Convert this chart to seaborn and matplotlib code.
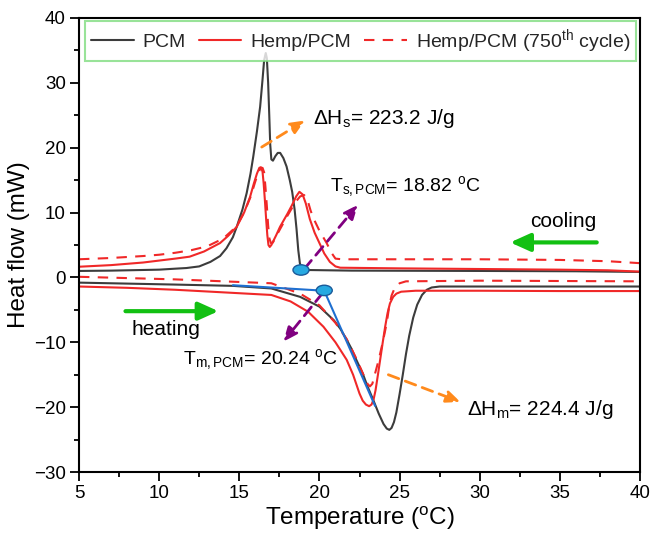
import numpy as np
import pandas as pd
import matplotlib
matplotlib.use("Agg")
import matplotlib.pyplot as plt
import seaborn as sns
from matplotlib.patches import Ellipse

# ---------------- data ----------------
pcm_cool_T = [5, 7, 9, 10, 11, 11.7, 12.5, 13.2, 13.8, 14.2, 14.6, 14.84, 15.2, 15.46, 15.7, 15.87, 16.1,
              16.3, 16.45, 16.55, 16.65, 16.72, 16.8, 16.87, 16.93, 17.0, 17.1, 17.25, 17.4, 17.55, 17.75,
              17.95, 18.15, 18.3, 18.45, 18.57, 18.68, 18.78, 18.9, 19.1, 22, 30, 36, 40]
pcm_cool_Q = [1.0, 1.05, 1.15, 1.2, 1.35, 1.45, 1.7, 2.4, 3.3, 4.5, 6.2, 7.8, 10.5, 13.0, 16.0, 18.6, 22.5,
              26.3, 30.5, 33.5, 34.6, 33.8, 30.0, 25.0, 20.5, 18.2, 18.0, 18.7, 19.2, 19.2, 18.4,
              17.1, 15.0, 13.2, 10.5, 7.5, 4.2, 2.2, 1.3, 1.15, 1.05, 1.0, 0.95, 0.85]

hemp_cool_T = [5, 7, 9, 10, 11, 11.9, 12.8, 13.8, 14.3, 14.84, 15.3, 15.67, 15.9, 16.1, 16.25, 16.35, 16.45,
               16.52, 16.6, 16.68, 16.75, 16.82, 16.9, 17.0, 17.3, 17.54, 18.0, 18.3, 18.55, 18.75, 18.95,
               19.15, 19.4, 19.7, 20.0, 20.3, 20.65, 21.0, 21.3, 25, 30, 35, 38, 40]
hemp_cool_Q = [1.65, 1.9, 2.3, 2.6, 2.9, 3.2, 4.0, 5.3, 6.4, 7.8, 10.0, 12.4, 14.4, 16.0, 16.9, 17.0, 16.3,
               14.5, 11.8, 8.8, 6.5, 5.0, 4.7, 5.0, 6.5, 7.8, 9.8, 11.2, 12.5, 13.2, 12.8,
               11.4, 9.0, 6.9, 5.3, 3.7, 2.4, 1.7, 1.5, 1.4, 1.3, 1.2, 1.1, 0.9]

cyc_cool_T = [5, 7, 9, 10, 11, 12, 13, 14, 14.8, 15.3, 15.7, 16.0, 16.15, 16.3, 16.45, 16.55, 16.63, 16.72,
              16.8, 16.88, 16.97, 17.1, 17.4, 18.0, 18.5, 18.8, 19.05, 19.25, 19.45, 19.65, 20.0, 20.45,
              20.75, 21.0, 21.4, 30, 35, 38, 40]
cyc_cool_Q = [2.8, 3.0, 3.3, 3.5, 3.8, 4.2, 4.8, 6.0, 7.8, 10.0, 12.4, 14.8, 15.9, 16.7, 16.9, 16.2, 14.0, 11.0,
              8.0, 6.0, 5.3, 5.4, 6.8, 9.5, 11.6, 12.5, 12.7, 12.0, 10.3, 9.0, 7.2, 5.3,
              3.8, 2.9, 2.8, 2.8, 2.7, 2.5, 2.2]

pcm_heat_T = [5, 8, 11, 14.6, 17, 18.8, 20, 20.9, 21.3, 21.7, 22.0, 22.3, 22.7, 23.0, 23.36, 23.7, 24.0,
              24.2, 24.36, 24.5, 24.65, 24.8, 25.0, 25.2, 25.4, 25.6, 25.85, 26.1, 26.4, 26.7, 27.0, 27.5,
              30, 35, 40]
pcm_heat_Q = [-0.8, -0.95, -1.1, -1.3, -1.7, -3.0, -4.5, -6.6, -7.9, -9.6, -11.0, -12.7, -14.8, -16.8, -18.9,
              -21.0, -22.6, -23.3, -23.5, -23.2, -22.3, -20.8, -18.0, -15.0, -11.8, -9.0, -6.2, -4.2, -2.7,
              -1.9, -1.55, -1.4, -1.4, -1.4, -1.4]

hemp_heat_T = [5, 8, 11, 14, 17, 18.2, 19.3, 20.25, 21.0, 21.7, 22.1, 22.5, 22.7, 22.9, 23.1, 23.25, 23.38,
               23.5, 23.65, 23.8, 23.95, 24.1, 24.25, 24.4, 24.6, 24.8, 25.1, 26, 30, 35, 40]
hemp_heat_Q = [-1.4, -1.6, -1.9, -2.3, -2.7, -3.7, -5.3, -7.6, -10.0, -12.7, -15.0, -17.9, -19.0, -19.6,
               -19.85, -19.6, -18.8, -17.4, -15.0, -12.5, -10.0, -7.6, -5.5, -4.0, -3.0, -2.5, -2.2, -2.05,
               -2.05, -2.1, -2.1]

cyc_heat_T = [5, 8, 11, 14, 17, 18.8, 20, 21, 21.7, 22.3, 22.8, 23.0, 23.15, 23.3, 23.45, 23.7, 23.95, 24.2,
              24.35, 24.5, 24.7, 25.0, 25.4, 30, 35, 40]
cyc_heat_Q = [0.1, -0.1, -0.3, -0.6, -0.9, -2.5, -4.3, -7.0, -9.5, -12.5, -15.3, -16.4, -16.8, -16.4, -15.0,
              -12.7, -10.0, -7.0, -4.5, -2.8, -1.6, -0.9, -0.6, -0.5, -0.55, -0.6]

# onset construction (tangent lines) and onset points
tangent_T = [14.6, 20.3, 23.47]
tangent_Q = [-1.2, -2.05, -19.8]
onset_T = [18.85, 20.3]
onset_Q = [1.15, -2.0]

legend_labels = ["PCM", "Hemp/PCM", "Hemp/PCM (750$^{th}$ cycle)"]

# ---------------- styling ----------------
sns.set_theme(style="ticks")
plt.rcParams["font.family"] = ["Liberation Sans", "DejaVu Sans"]
plt.rcParams["mathtext.fontset"] = "custom"
plt.rcParams["mathtext.rm"] = "Liberation Sans"
plt.rcParams["mathtext.it"] = "Liberation Sans:italic"
plt.rcParams["mathtext.default"] = "regular"

black = "#3c3c3c"
red = "#f02828"
blue = "#1f6fd0"
orange = "#ff8a1c"
purple = "#800080"
green = "#12c012"

fig = plt.figure(figsize=(6.54, 5.37), dpi=100)
ax = fig.add_axes([0.1208, 0.121, 0.8578, 0.8455])

def draw(T, Q, color, ls, label=None):
    sns.lineplot(x=T, y=Q, ax=ax, color=color, linestyle=ls, lw=1.5, sort=False,
                 estimator=None, label=label, legend=False)

draw(pcm_cool_T, pcm_cool_Q, black, "-", legend_labels[0])
draw(hemp_cool_T, hemp_cool_Q, red, "-", legend_labels[1])
draw(cyc_cool_T, cyc_cool_Q, red, (0, (5, 4)), legend_labels[2])
draw(pcm_heat_T, pcm_heat_Q, black, "-")
draw(hemp_heat_T, hemp_heat_Q, red, "-")
draw(cyc_heat_T, cyc_heat_Q, red, (0, (5, 4)))
draw(tangent_T, tangent_Q, blue, "-")

for t, q in zip(onset_T, onset_Q):
    ax.add_patch(Ellipse((t, q), width=1.0, height=1.6, facecolor="#27a9e1",
                         edgecolor="#1a5a9a", lw=1.0, zorder=5))

ax.set_xlim(5, 40)
ax.set_ylim(-30, 40)
ax.set_xticks(np.arange(5, 41, 5))
ax.set_yticks(np.arange(-30, 41, 10))
ax.set_xticks(np.arange(7.5, 40, 5), minor=True)
ax.set_yticks(np.arange(-25, 40, 10), minor=True)
ax.tick_params(which="major", direction="out", length=6.5, width=1.3, labelsize=13.5, color="black",
               labelcolor="black", pad=3)
ax.tick_params(which="minor", direction="out", length=3.5, width=1.3, color="black")
for s in ax.spines.values():
    s.set_visible(True)
    s.set_linewidth(1.5)
    s.set_color("black")
ax.set_xlabel("Temperature ($^{o}$C)", fontsize=17.5, color="black", labelpad=2)
ax.set_ylabel("Heat flow (mW)", fontsize=17.5, color="black", labelpad=3)

# legend
handles, labels = ax.get_legend_handles_labels()
leg = ax.legend(handles[:3], labels[:3], ncol=3, loc="upper left",
                bbox_to_anchor=(0.0107, 0.9934),
                fontsize=14, frameon=True, fancybox=False, handlelength=2.2,
                handletextpad=0.47, borderpad=0.3, columnspacing=0.65, borderaxespad=0)
leg.get_frame().set_edgecolor("#80dc80")
leg.get_frame().set_linewidth(1.5)

# annotations
def darrow(xy_from, xy_to, color):
    ax.annotate("", xy=xy_to, xytext=xy_from,
                arrowprops=dict(arrowstyle="-|>,head_length=0.7,head_width=0.3", color=color,
                                lw=2.0, linestyle=(0, (4, 2.5)), shrinkA=0, shrinkB=0))

darrow((16.4, 20.1), (19.1, 24.2), orange)
ax.text(19.6, 24.5, "ΔH$_{s}$= 223.2 J/g", fontsize=15, va="center", ha="left", color="black")

darrow((19.05, 1.3), (22.4, 11.2), purple)
ax.text(20.65, 14.0, "T$_{s,PCM}$= 18.82 $^{o}$C", fontsize=14, va="center", ha="left", color="black")

darrow((20.2, -2.4), (17.75, -9.9), purple)
ax.text(11.5, -12.7, "T$_{m,PCM}$= 20.24 $^{o}$C", fontsize=14, va="center", ha="left", color="black")

darrow((24.3, -15.0), (28.8, -19.2), orange)
ax.text(29.2, -20.4, "ΔH$_{m}$= 224.4 J/g", fontsize=15, va="center", ha="left", color="black")

def garrow(xy_from, xy_to):
    ax.annotate("", xy=xy_to, xytext=xy_from,
                arrowprops=dict(arrowstyle="-|>,head_length=1.0,head_width=0.45", color=green,
                                lw=3.0, shrinkA=0, shrinkB=0))

garrow((37.3, 5.4), (31.9, 5.4))
ax.text(35.2, 8.6, "cooling", fontsize=15, ha="center", va="center", color="black")
garrow((7.9, -5.2), (13.7, -5.2))
ax.text(10.4, -8.1, "heating", fontsize=15, ha="center", va="center", color="black")

fig.savefig("out.png", dpi=100)
